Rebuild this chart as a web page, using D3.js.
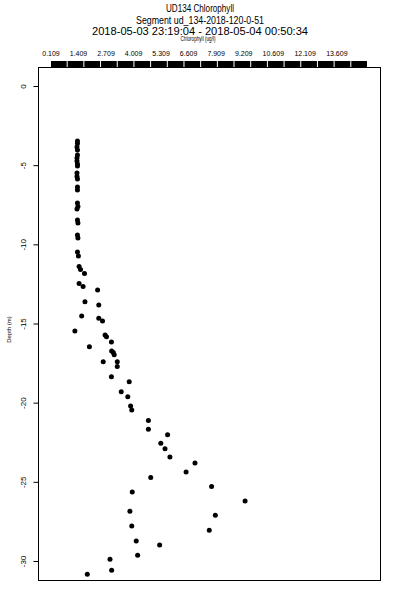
<!doctype html>
<html lang="en">
<head>
    <meta charset="UTF-8">
    <title>UD134 Chlorophyll</title>
    <style>
        body { margin: 0; background: white; }
        text { font-family: "Liberation Sans", Arial, sans-serif; fill: black; }
        .dot { fill: black; }
    </style>
</head>
<body>
<div class="chart"></div>

<script src="https://d3js.org/d3.v7.min.js"></script>
<script>
    // chlorophyll (ug/l) and depth (m)
    const chlorophyll = [
        1.24, 1.24, 1.22, 1.24, 1.24, 1.22, 1.22, 1.24, 1.24, 1.22,
        1.22, 1.24, 1.24, 1.24, 1.24, 1.26, 1.22, 1.24, 1.26, 1.24,
        1.26, 1.24, 1.28, 1.31, 1.37, 1.54, 1.31, 1.48, 2.10, 1.56,
        2.15, 1.42, 2.15, 2.31, 1.13, 2.42, 2.48, 2.69, 1.75, 2.70,
        2.77, 2.81, 2.34, 2.94, 2.94, 2.69, 3.45, 3.11, 3.39, 3.51,
        3.56, 4.27, 4.27, 5.09, 4.80, 4.98, 5.19, 6.26, 5.88, 4.37,
        6.97, 3.58, 8.40, 3.48, 7.13, 3.56, 6.87, 3.75, 4.75, 3.81,
        2.63, 2.70, 1.66
    ]
    const depth = [
        -3.47, -3.63, -3.85, -4.04, -4.36, -4.55, -4.74, -4.93, -5.05, -5.50,
        -5.72, -5.87, -6.38, -6.57, -7.39, -7.61, -7.77, -8.46, -8.65, -9.41,
        -9.60, -10.48, -10.74, -11.40, -11.59, -11.84, -12.47, -12.66, -12.88, -13.62,
        -13.83, -14.52, -14.67, -14.84, -15.47, -15.73, -15.84, -16.17, -16.47, -16.74,
        -16.83, -16.97, -17.41, -17.41, -17.72, -18.36, -18.68, -19.31, -19.62, -20.21,
        -20.46, -21.13, -21.68, -22.02, -22.57, -22.91, -23.43, -23.81, -24.38, -24.72,
        -25.29, -25.64, -26.21, -26.86, -27.11, -27.79, -28.06, -28.74, -28.99, -29.64,
        -29.89, -30.59, -30.84
    ]
    const depthTicks = [0, -5, -10, -15, -20, -25, -30]
    const colorbarLabels = ['0.109', '1.409', '2.709', '4.009', '5.309', '6.609',
        '7.909', '9.209', '10.609', '12.109', '13.609']
    const colorbarMax = 15.08
    const colorbarSegments = 19

    const titleLines = [
        'UD134 Chlorophyll',
        'Segment ud_134-2018-120-0-51',
        '2018-05-03 23:19:04 - 2018-05-04 00:50:34'
    ]

    let dimensions = {
        width: 400,
        height: 600,
        left: 38,
        right: 380,
        top: 67,
        bottom: 580
    }

    const svg = d3.select('.chart')
        .append('svg')
        .attr('width', dimensions.width)
        .attr('height', dimensions.height)

    // Titles
    const titleY = [12, 23.5, 34.5]
    const titleW = [68, 128, 216]
    titleLines.forEach(function(t, i) {
        svg.append('text')
            .attr('x', 200)
            .attr('y', titleY[i])
            .attr('text-anchor', 'middle')
            .attr('textLength', titleW[i])
            .attr('lengthAdjust', 'spacingAndGlyphs')
            .style('font-size', '10px')
            .text(t)
    })
    svg.append('text')
        .attr('x', 198)
        .attr('y', 41)
        .attr('text-anchor', 'middle')
        .attr('textLength', 35)
        .attr('lengthAdjust', 'spacingAndGlyphs')
        .style('font-size', '6.5px')
        .text('Chlorophyll (ug/l)')

    // Scales
    const xScale = d3.scaleLinear()
        .domain([-0.446, 14.164])
        .range([dimensions.left, dimensions.right])
    const yScale = d3.scaleLinear()
        .domain([1.2, -31.2])
        .range([dimensions.top, dimensions.bottom])

    // Colour bar (all black) along the top
    const cbScale = d3.scaleLinear()
        .domain([0.109, colorbarMax])
        .range([51, 368])
    const band = d3.scaleBand()
        .domain(d3.range(colorbarSegments))
        .range(cbScale.range())
    svg.append('g')
        .attr('id', 'colorbar')
        .selectAll('rect')
        .data(d3.range(colorbarSegments))
        .enter().append('rect')
            .attr('x', d => band(d))
            .attr('y', 61)
            .attr('width', band.bandwidth() - 1)
            .attr('height', 6)
            .attr('fill', 'black')
    svg.append('g')
        .selectAll('text')
        .data(colorbarLabels)
        .enter().append('text')
            .attr('x', d => cbScale(+d))
            .attr('y', 55.5)
            .attr('text-anchor', 'middle')
            .style('font-size', '7px')
            .text(d => d)

    // Frame
    svg.append('rect')
        .attr('x', dimensions.left + 0.5)
        .attr('y', dimensions.top + 0.5)
        .attr('width', dimensions.right - dimensions.left)
        .attr('height', dimensions.bottom - dimensions.top)
        .attr('fill', 'none')
        .attr('stroke', 'black')

    // Y axis
    const yAxis = d3.axisLeft(yScale)
        .tickValues(depthTicks)
        .tickSize(5)
        .tickFormat(d3.format('d'))
    const yg = svg.append('g')
        .attr('transform', 'translate(' + (dimensions.left + 0.5) + ',0)')
        .call(yAxis)
    yg.select('.domain').remove()
    yg.selectAll('.tick line').attr('stroke', 'black')
    yg.selectAll('.tick text')
        .attr('transform', 'rotate(-90)')
        .attr('x', 0)
        .attr('y', -12.5)
        .attr('dy', 0)
        .attr('text-anchor', 'middle')
        .attr('fill', 'black')
        .style('font-size', '8px')
        .style('font-family', '"Liberation Sans", Arial, sans-serif')
        .text(d => String(d).replace('\u2212', '-'))

    svg.append('text')
        .attr('transform', 'translate(10.5,' + ((dimensions.top + dimensions.bottom) / 2 + 6) + ') rotate(-90)')
        .attr('text-anchor', 'middle')
        .style('font-size', '6px')
        .text('Depth (m)')

    // Dots
    svg.append('g')
        .attr('id', 'dots')
        .selectAll('circle')
        .data(d3.range(depth.length))
        .enter().append('circle')
            .attr('class', 'dot')
            .attr('cx', i => xScale(chlorophyll[i]))
            .attr('cy', i => yScale(depth[i]))
            .attr('r', 2.5)
</script>
</body>
</html>
